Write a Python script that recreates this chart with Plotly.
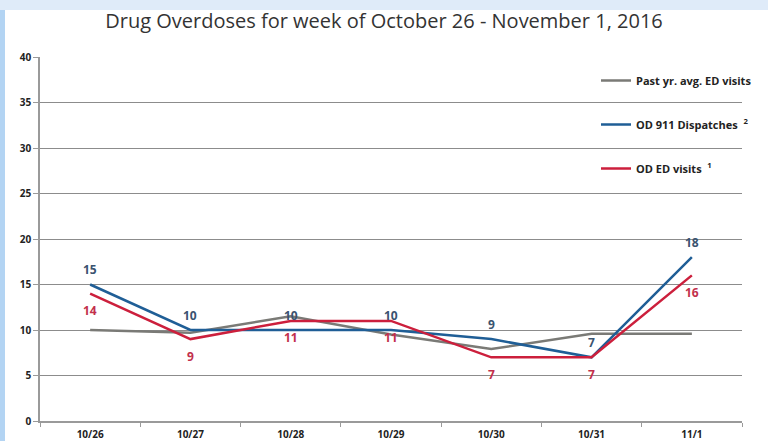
import plotly.graph_objects as go

categories = ["10/26", "10/27", "10/28", "10/29", "10/30", "10/31", "11/1"]
past_avg = [10, 9.7, 11.5, 9.5, 7.9, 9.6, 9.6]
od_911 = [15, 10, 10, 10, 9, 7, 18]
od_ed = [14, 9, 11, 11, 7, 7, 16]

title_text = "Drug Overdoses for week of October 26 - November 1, 2016"
y_ticks = [0, 5, 10, 15, 20, 25, 30, 35, 40]

FONT = "Open Sans"
BLUE_LABEL = "#3a5370"
RED_LABEL = "#c2304c"

fig = go.Figure()

fig.add_trace(go.Scatter(
    x=categories, y=past_avg, mode="lines", name="Past yr. avg. ED visits",
    line=dict(color="#7a7a76", width=2.5), legendgroup="a",
))
fig.add_trace(go.Scatter(
    x=categories, y=od_911, mode="lines", name="OD 911 Dispatches  <sup>2</sup>",
    line=dict(color="#1f5e96", width=2.5), legendgroup="b",
))
fig.add_trace(go.Scatter(
    x=categories, y=od_ed, mode="lines", name="OD ED visits  <sup>1</sup>",
    line=dict(color="#cc1f3c", width=2.5), legendgroup="c",
))

annotations = []
for c, v in zip(categories, od_911):
    annotations.append(dict(x=c, y=v, xref="x", yref="y", text=str(v), showarrow=False,
                            yshift=15, font=dict(family=FONT, size=12, color=BLUE_LABEL, weight="bold")))
for c, v in zip(categories, od_ed):
    annotations.append(dict(x=c, y=v, xref="x", yref="y", text=str(v), showarrow=False,
                            yshift=-17, font=dict(family=FONT, size=12, color=RED_LABEL, weight="bold")))

L, R, T, B = 40, 26, 57, 20
PW = 768 - L - R
PH = 441 - T - B

def px_x(p):
    return (p - L) / PW

def px_y(p):
    return (441 - B - p) / PH

fig.update_layout(
    width=768, height=441,
    margin=dict(l=L, r=R, t=T, b=B, autoexpand=False),
    paper_bgcolor="white", plot_bgcolor="white",
    title=dict(text=title_text, x=0.5, xanchor="center", y=1 - 21 / 441, yanchor="middle",
               font=dict(family=FONT, size=20, color="#333333")),
    showlegend=True,
    legend=dict(x=px_x(596), y=px_y(66), xanchor="left", yanchor="top",
                bgcolor="rgba(0,0,0,0)", traceorder="grouped", tracegroupgap=25,
                itemwidth=30,
                font=dict(family=FONT, size=11, color="#222222", weight="bold")),
    annotations=annotations,
    xaxis=dict(
        type="category", range=[-0.5, 6.5], showgrid=False, automargin=False,
        showline=True, linecolor="#9a9a9a", linewidth=1.5,
        ticks="outside", ticklen=4, tickcolor="#9a9a9a", tickson="boundaries",
        ticklabelstandoff=3,
        tickfont=dict(family=FONT, size=10, color="#222222", weight="bold"),
    ),
    yaxis=dict(
        range=[0, 40], tickvals=y_ticks, showgrid=True, gridcolor="#8c8c8c", gridwidth=1,
        showline=True, linecolor="#9a9a9a", linewidth=1.5, zeroline=False, automargin=False,
        ticks="outside", ticklen=5, tickcolor="#9a9a9a",
        tickfont=dict(family=FONT, size=10, color="#222222", weight="bold"),
    ),
    shapes=[
        dict(type="rect", xref="paper", yref="paper", layer="below",
             x0=px_x(0), x1=px_x(768), y0=px_y(10), y1=px_y(0),
             fillcolor="#dfebf9", line=dict(width=0)),
        dict(type="rect", xref="paper", yref="paper", layer="below",
             x0=px_x(0), x1=px_x(5), y0=px_y(441), y1=px_y(10),
             fillcolor="#b3d4f3", line=dict(width=0)),
    ],
)

fig.write_html("out.html", config={"displayModeBar": False},
               post_script="document.body.style.margin='0';")
